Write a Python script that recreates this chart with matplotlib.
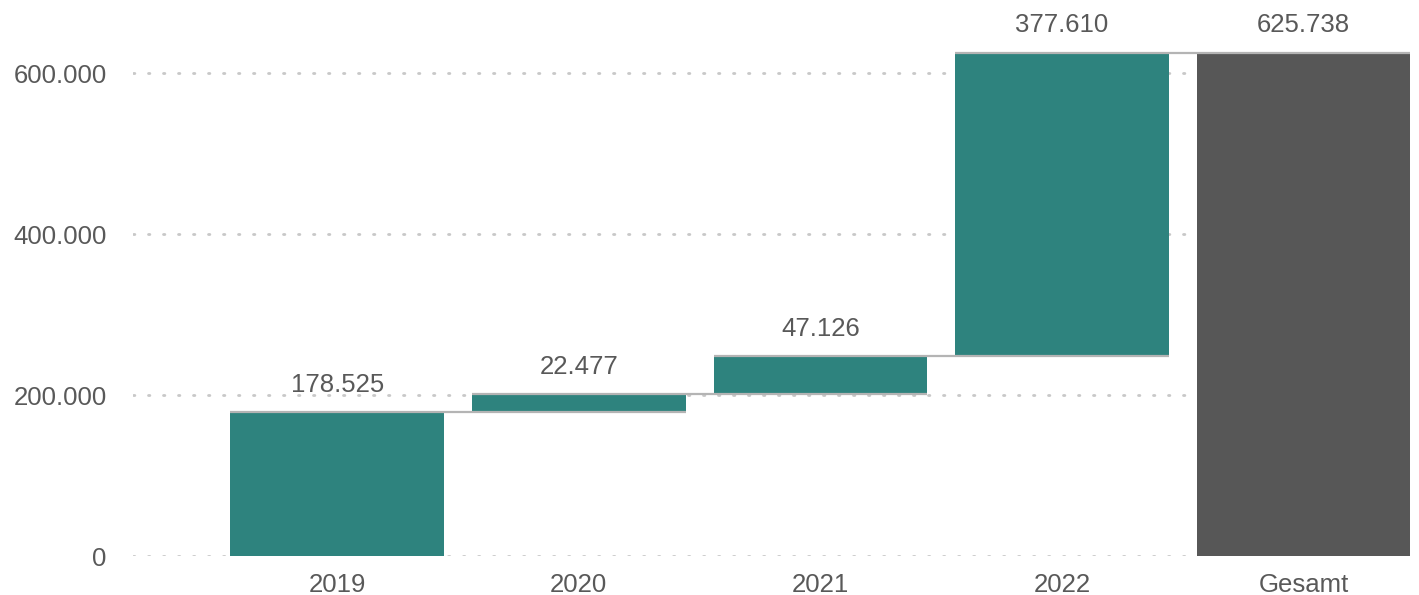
"""
Waterfall chart: yearly increments 2019-2022 and the cumulative total.
Saves: out.png
"""

import numpy as np
import matplotlib.pyplot as plt

categories = ["2019", "2020", "2021", "2022", "Gesamt"]
increments = [178525, 22477, 47126, 377610]
y_ticks = [0, 200000, 400000, 600000]

TEAL = "#2e837e"
TOTAL_GREY = "#575757"
TEXT_GREY = "#595959"
CONNECTOR = "#b4b4b4"
GRID = "#c8c8c8"


def fmt_de(v):
    # German thousands separator
    return f"{int(round(v)):,}".replace(",", ".")


def main():
    plt.rcParams["font.family"] = ["Liberation Sans", "DejaVu Sans"]

    total = sum(increments)
    ends = np.cumsum(increments)
    starts = ends - np.array(increments)

    bottoms = list(starts) + [0]
    heights = list(increments) + [total]
    tops = list(ends) + [total]
    labels = increments + [total]
    colors = [TEAL] * len(increments) + [TOTAL_GREY]

    fig = plt.figure(figsize=(14.19, 5.95), dpi=100)
    ax = fig.add_axes([133 / 1419, 39 / 595, (1410 - 133) / 1419, 547 / 595])

    x = np.arange(len(categories))
    width = 0.885

    for yt in y_ticks:
        ax.axhline(yt, color=GRID, lw=2, linestyle=(0, (0.5, 4.9)),
                   dash_capstyle="round", zorder=0)

    ax.bar(x, heights, bottom=bottoms, width=width, color=colors, zorder=2)

    # connector from each bar top across the following bar
    for i in range(len(categories) - 1):
        ax.plot([x[i] - width / 2, x[i + 1] + width / 2], [tops[i], tops[i]],
                color=CONNECTOR, lw=1.6, zorder=3, solid_capstyle="butt")

    for xi, top, val in zip(x, tops, labels):
        ax.annotate(fmt_de(val), (xi, top), xytext=(0, 11), textcoords="offset points",
                    ha="center", va="bottom", fontsize=18.5, color=TEXT_GREY,
                    annotation_clip=False)

    ax.set_xlim(-0.845, 4.44)
    ax.set_ylim(0, 680000)
    ax.set_xticks(x)
    ax.set_xticklabels(categories)
    ax.set_yticks(y_ticks)
    ax.set_yticklabels([fmt_de(v) for v in y_ticks])
    ax.tick_params(length=0, labelsize=18.5, labelcolor=TEXT_GREY)
    ax.tick_params(axis="y", pad=19)
    ax.tick_params(axis="x", pad=12)
    for s in ax.spines.values():
        s.set_visible(False)

    fig.savefig("out.png", dpi=100)
    plt.close(fig)


if __name__ == "__main__":
    main()
